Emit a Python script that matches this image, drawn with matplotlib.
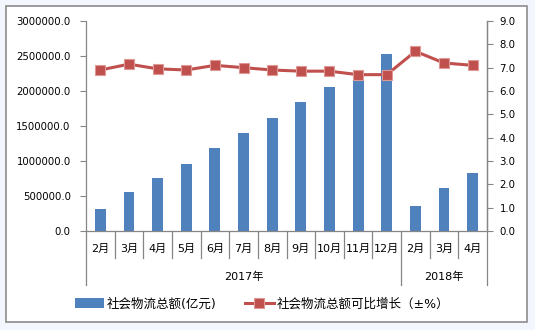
import matplotlib
matplotlib.use("Agg")
import matplotlib.pyplot as plt
import matplotlib.transforms as mtransforms
from matplotlib.patches import Rectangle, Patch
from matplotlib.lines import Line2D
from matplotlib.ticker import FuncFormatter
import numpy as np

plt.rcParams['font.family'] = ['DejaVu Sans', 'Noto Sans CJK SC']

months = ['2月', '3月', '4月', '5月', '6月', '7月', '8月', '9月', '10月', '11月', '12月', '2月', '3月', '4月']
years = ['2017年', '2018年']
year_counts = [11, 3]
total_value = [320000, 560000, 760000, 960000, 1185000, 1400000, 1615000, 1845000,
               2060000, 2295000, 2525000, 360000, 615000, 830000]
growth = [6.9, 7.15, 6.95, 6.9, 7.1, 7.0, 6.9, 6.85, 6.85, 6.7, 6.7, 7.7, 7.2, 7.1]
legend_labels = ['社会物流总额(亿元)', '社会物流总额可比增长（±%）']

bar_color = '#4F81BD'
line_color = '#C0504D'
axis_color = '#868686'

W, H = 535, 330
fig = plt.figure(figsize=(W / 100, H / 100), dpi=100)
fig.patch.set_facecolor('#F3F7FD')
fig.patches.append(Rectangle((5.5 / W, 1 - 321.5 / H), 521.5 / W, 315.5 / H,
                             transform=fig.transFigure, facecolor='white',
                             edgecolor='#8C8C8C', linewidth=1.2, zorder=-10))

L, R, T, B = 86, 487, 21, 231
ax = fig.add_axes([L / W, 1 - B / H, (R - L) / W, (B - T) / H])
ax.set_facecolor('none')
x = np.arange(len(months))
ax.bar(x, total_value, width=0.38, color=bar_color, zorder=2)
ax.set_xlim(-0.5, len(months) - 0.5)
ax.set_ylim(0, 3000000)
ax.set_yticks(np.arange(0, 3000001, 500000))
ax.yaxis.set_major_formatter(FuncFormatter(lambda v, p: f'{v:.1f}'))
ax.tick_params(axis='y', length=4, width=0.8, color=axis_color, pad=7, labelsize=7.3)
ax.set_xticks(x)
ax.set_xticklabels(months, fontsize=8)
ax.tick_params(axis='x', length=0, pad=9)
ax.spines['top'].set_visible(False)
for s in ['left', 'bottom', 'right']:
    ax.spines[s].set_color(axis_color)
    ax.spines[s].set_linewidth(0.9)

# category dividers
trans = mtransforms.blended_transform_factory(ax.transData, ax.transAxes)
ph = B - T
bounds = np.cumsum([0] + year_counts)
for i in range(len(months) + 1):
    depth = 54 if i in bounds else 27
    ax.plot([i - 0.5, i - 0.5], [0, -depth / ph], transform=trans, color=axis_color,
            lw=0.9, clip_on=False)
for yl, s, c in zip(years, bounds[:-1], year_counts):
    ax.text(s + (c - 1) / 2, -46 / ph, yl, transform=trans, ha='center', va='center',
            fontsize=8)

ax2 = ax.twinx()
ax2.plot(x, growth, color=line_color, lw=2.2, marker='s', markersize=7,
         markerfacecolor=line_color, markeredgecolor='#DE9896', markeredgewidth=0.8,
         zorder=3)
ax2.set_ylim(0, 9)
ax2.set_yticks(np.arange(0, 10, 1))
ax2.yaxis.set_major_formatter(FuncFormatter(lambda v, p: f'{v:.1f}'))
ax2.tick_params(axis='y', length=4, width=0.8, color=axis_color, pad=5, labelsize=7.3)
for s in ['top', 'left', 'bottom']:
    ax2.spines[s].set_visible(False)
ax2.spines['right'].set_color(axis_color)
ax2.spines['right'].set_linewidth(0.9)

handles = [Patch(facecolor=bar_color, edgecolor='none'),
           Line2D([], [], color=line_color, lw=2.2, marker='s', markersize=7,
                  markerfacecolor=line_color, markeredgecolor='#DE9896', markeredgewidth=0.8)]
fig.legend(handles, legend_labels, loc='center', bbox_to_anchor=(262 / W, 1 - 304 / H),
           ncol=2, frameon=False, fontsize=9, handlelength=2.3, handleheight=0.8,
           handletextpad=0.2, columnspacing=2.3)

fig.savefig('out.png', dpi=100, facecolor=fig.get_facecolor())
